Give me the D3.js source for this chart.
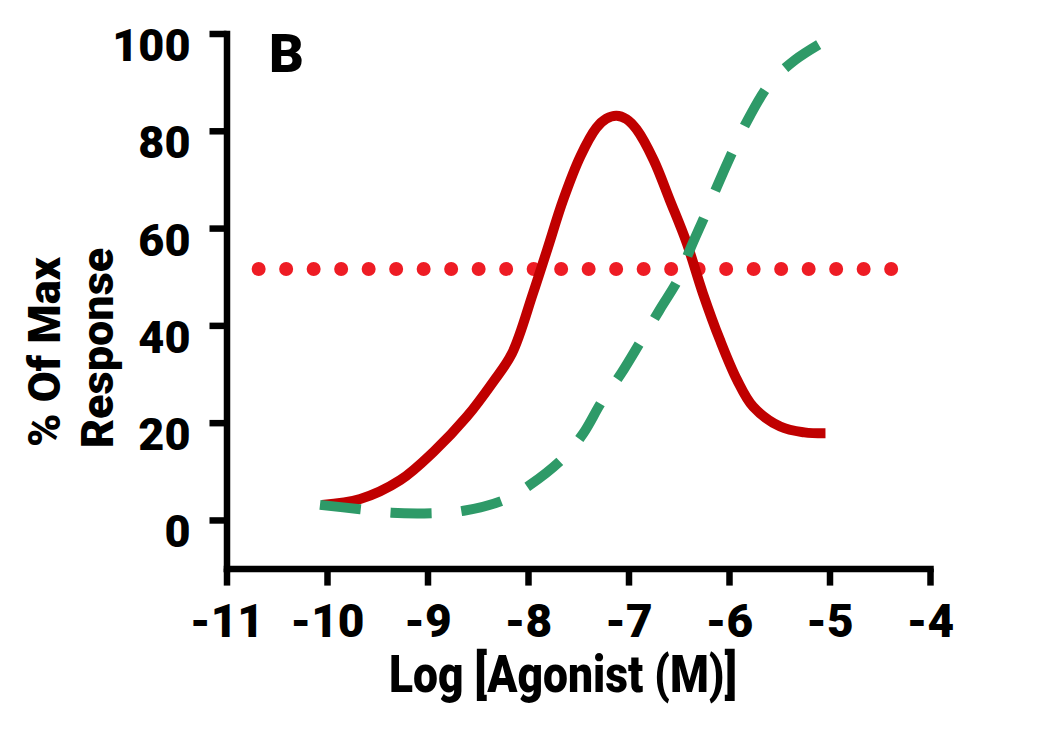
<!DOCTYPE html>
<html>
<head>
<meta charset="utf-8">
<script src="https://cdn.jsdelivr.net/npm/d3@7"></script>
<style>
  body { margin: 0; background: #fff; }
  svg text { font-family: Roboto, "Liberation Sans", sans-serif; font-weight: 900; fill: #000; }
</style>
</head>
<body>
<script>
// data
var xTicks = [-11, -10, -9, -8, -7, -6, -5, -4];
var yTicks = [0, 20, 40, 60, 80, 100];

var redX = [-10.05, -9.67, -9.27, -8.94, -8.61, -8.35, -8.16, -7.95, -7.81, -7.65, -7.48, -7.32, -7.22, -7.12,
            -7.02, -6.92, -6.75, -6.59, -6.42, -6.26, -6.09, -5.92, -5.76, -5.49, -5.25, -5.04];
var redY = [3.1, 4.3, 8.2, 14, 21.2, 28.3, 34.2, 46.6, 55.5, 65.8, 74.7, 80.6, 82.5, 83.1,
            82.4, 80.3, 74, 65.8, 56.9, 46.6, 37, 28.8, 23.3, 19.2, 18.0, 17.8];

var greenX = [-10.07, -9.67, -9.36, -8.94, -8.64, -8.24, -7.98, -7.65, -7.45, -7.27, -7.07, -6.87,
              -6.69, -6.50, -6.39, -6.22, -6.12, -5.97, -5.82, -5.59, -5.34, -5.06];
var greenY = [3.1, 2.2, 1.5, 1.4, 1.9, 4.1, 7.2, 12.7, 17.8, 24.2, 30.2, 37,
              43.2, 49.7, 55.5, 63.5, 68.5, 75.5, 82, 89.8, 94.6, 98.3];

var refX = [-10.68, -4.38];
var refY = [51.6, 51.6];

var width = 1043, height = 730;

var svg = d3.select("body").append("svg")
    .attr("width", width)
    .attr("height", height);

var x = d3.scaleLinear().domain([-11, -4]).range([226.5, 930]);
var y = d3.scaleLinear().domain([-10, 100]).range([568.6, 33.5]);

var line = d3.line()
    .x(function(d) { return x(d[0]); })
    .y(function(d) { return y(d[1]); })
    .curve(d3.curveCatmullRom.alpha(0.5));

// y axis
var yAxis = svg.append("g")
    .attr("transform", "translate(" + x(-11) + ",0)")
    .call(d3.axisLeft(y).tickValues(yTicks).tickSize(17).tickSizeOuter(0).tickPadding(19));

// x axis
var xAxis = svg.append("g")
    .attr("transform", "translate(0," + y(-10) + ")")
    .call(d3.axisBottom(x).tickValues(xTicks).tickSize(17).tickSizeOuter(0).tickPadding(19)
      .tickFormat(function(d) { return d; }));

[yAxis, xAxis].forEach(function(g) {
  g.select(".domain").attr("stroke", "#000").attr("stroke-width", 6.5).attr("stroke-linecap", "square");
  g.selectAll(".tick line").attr("stroke", "#000").attr("stroke-width", 6.5);
  g.selectAll("text").attr("fill", "#000").style("font-family", "Roboto, sans-serif").style("font-weight", 900);
});
yAxis.selectAll("text").style("font-size", "45px").attr("dy", "0.6em");
xAxis.selectAll("text").style("font-size", "46px");

// reference line (dotted)
svg.append("path")
    .datum(d3.zip(refX, refY))
    .attr("d", d3.line().x(function(d) { return x(d[0]); }).y(function(d) { return y(d[1]); }))
    .attr("fill", "none")
    .attr("stroke", "#ee1c24")
    .attr("stroke-width", 14)
    .attr("stroke-linecap", "round")
    .attr("stroke-dasharray", "0,27.5");

// red curve
svg.append("path")
    .datum(d3.zip(redX, redY))
    .attr("d", line)
    .attr("fill", "none")
    .attr("stroke", "#c00000")
    .attr("stroke-width", 10);

// green dashed curve
svg.append("path")
    .datum(d3.zip(greenX, greenY))
    .attr("d", line)
    .attr("fill", "none")
    .attr("stroke", "#2e9a68")
    .attr("stroke-width", 10)
    .attr("stroke-dasharray", "41,30");

// titles
svg.append("text")
    .attr("x", 563)
    .attr("y", 692)
    .attr("text-anchor", "middle")
    .attr("textLength", 348)
    .attr("lengthAdjust", "spacingAndGlyphs")
    .style("font-size", "52px")
    .text("Log [Agonist (M)]");

svg.append("text")
    .attr("transform", "translate(60,352) rotate(-90)")
    .attr("text-anchor", "middle")
    .style("font-size", "45px")
    .text("% Of Max");

svg.append("text")
    .attr("transform", "translate(113,348) rotate(-90)")
    .attr("text-anchor", "middle")
    .style("font-size", "45px")
    .text("Response");

svg.append("text")
    .attr("x", 269)
    .attr("y", 72)
    .style("font-size", "54px")
    .text("B");
</script>
</body>
</html>
